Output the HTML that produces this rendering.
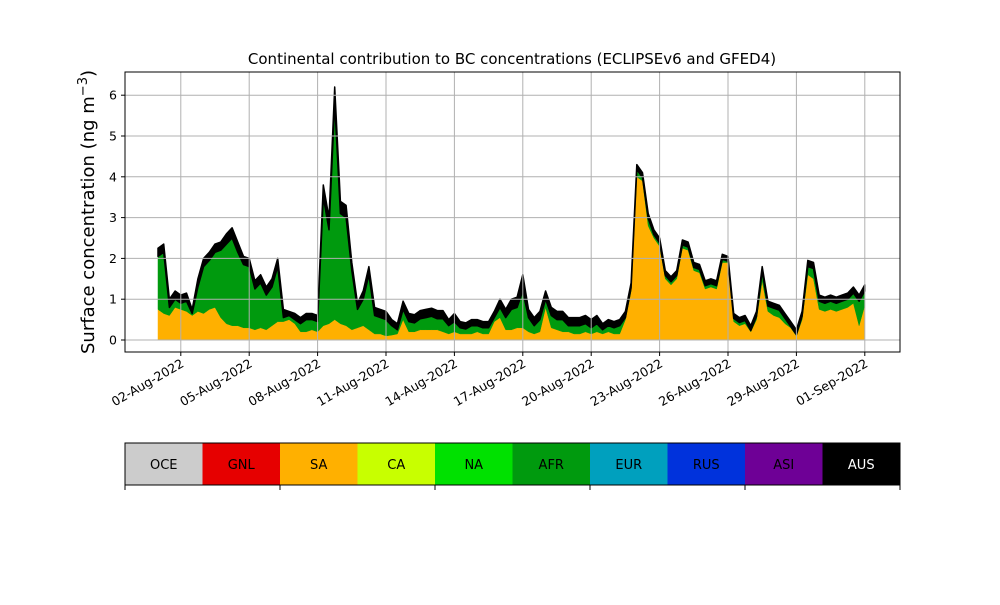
<!DOCTYPE html>
<html><head><meta charset="utf-8"><style>
html,body{margin:0;padding:0;background:#fff;}
svg text{font-family:"DejaVu Sans","Liberation Sans",sans-serif;}
</style></head><body>
<svg id="chart" width="1000" height="600" viewBox="0 0 1000 600" xmlns="http://www.w3.org/2000/svg">
<rect width="1000" height="600" fill="#fff"/>
<g id="layers"></g>
<g id="grid"></g>
<rect x="125" y="72" width="775" height="280" fill="none" stroke="#000" stroke-width="1"/>
<g id="xticks"></g>
<g id="yticks"></g>
<text x="512" y="64" font-size="15" text-anchor="middle">Continental contribution to BC concentrations (ECLIPSEv6 and GFED4)</text>
<text transform="translate(94,212) rotate(-90)" font-size="18" text-anchor="middle">Surface concentration (ng m<tspan dy="-7" font-size="13">−3</tspan><tspan dy="7">)</tspan></text>
<g id="cbar"></g>
</svg>
<script>
const startDay = 0, stepDay = 0.25;
const sa = [0.75,0.65,0.6,0.8,0.75,0.7,0.6,0.7,0.65,0.75,0.8,0.55,0.4,0.35,0.35,0.3,0.3,0.25,0.3,0.25,0.35,0.45,0.45,0.5,0.4,0.2,0.2,0.25,0.2,0.35,0.4,0.5,0.4,0.35,0.25,0.3,0.35,0.25,0.15,0.15,0.1,0.12,0.15,0.5,0.2,0.2,0.25,0.25,0.25,0.25,0.2,0.15,0.2,0.15,0.15,0.15,0.2,0.15,0.15,0.45,0.55,0.25,0.25,0.3,0.3,0.2,0.15,0.2,0.8,0.3,0.25,0.2,0.2,0.15,0.15,0.2,0.15,0.2,0.15,0.2,0.15,0.15,0.5,1.2,4.0,3.9,2.8,2.5,2.3,1.5,1.35,1.5,2.25,2.2,1.7,1.65,1.25,1.3,1.25,1.9,1.9,0.45,0.35,0.4,0.2,0.5,1.45,0.7,0.6,0.55,0.4,0.3,0.1,0.5,1.6,1.5,0.75,0.7,0.75,0.7,0.75,0.8,0.9,0.35,0.85];
const afr = [1.3,1.5,0.2,0.2,0.15,0.25,0.05,0.6,1.15,1.2,1.35,1.65,1.95,2.15,1.8,1.55,1.5,1.0,1.1,0.85,0.95,1.35,0.1,0.1,0.1,0.2,0.3,0.25,0.25,3.15,2.3,5.3,2.7,2.65,1.45,0.45,0.65,1.35,0.45,0.4,0.4,0.23,0.1,0.25,0.25,0.22,0.27,0.3,0.33,0.27,0.32,0.2,0.25,0.15,0.12,0.2,0.15,0.15,0.15,0.1,0.25,0.3,0.5,0.5,0.9,0.35,0.2,0.3,0.2,0.3,0.25,0.3,0.15,0.2,0.2,0.2,0.15,0.2,0.1,0.15,0.15,0.2,0.05,0.08,0.18,0.08,0.18,0.08,0.08,0.08,0.08,0.08,0.08,0.08,0.08,0.08,0.08,0.08,0.08,0.08,0.03,0.08,0.08,0.08,0.03,0.08,0.23,0.13,0.18,0.18,0.13,0.03,0.03,0.08,0.2,0.25,0.2,0.2,0.2,0.2,0.2,0.2,0.25,0.6,0.35];
const aus = [0.2,0.2,0.2,0.2,0.2,0.2,0.1,0.2,0.2,0.2,0.2,0.2,0.25,0.25,0.25,0.2,0.2,0.2,0.2,0.2,0.2,0.2,0.2,0.1,0.15,0.15,0.15,0.15,0.15,0.3,0.3,0.4,0.3,0.3,0.2,0.15,0.2,0.2,0.2,0.2,0.2,0.15,0.15,0.2,0.2,0.2,0.2,0.2,0.2,0.2,0.2,0.15,0.2,0.15,0.15,0.15,0.15,0.15,0.15,0.15,0.2,0.2,0.25,0.25,0.4,0.2,0.2,0.2,0.2,0.2,0.2,0.2,0.2,0.2,0.2,0.2,0.2,0.2,0.15,0.15,0.15,0.15,0.15,0.12,0.12,0.12,0.12,0.12,0.12,0.12,0.12,0.12,0.12,0.12,0.12,0.12,0.12,0.12,0.12,0.12,0.12,0.12,0.12,0.12,0.12,0.12,0.12,0.12,0.12,0.12,0.12,0.12,0.12,0.12,0.15,0.15,0.15,0.15,0.15,0.15,0.15,0.15,0.15,0.15,0.15];
const xTickDays = [1,4,7,10,13,16,19,22,25,28,31];
const xTickLabels = ["02-Aug-2022","05-Aug-2022","08-Aug-2022","11-Aug-2022","14-Aug-2022","17-Aug-2022","20-Aug-2022","23-Aug-2022","26-Aug-2022","29-Aug-2022","01-Sep-2022"];
const yTicks = [0,1,2,3,4,5,6];
const regions = ["OCE","GNL","SA","CA","NA","AFR","EUR","RUS","ASI","AUS"];
const regionColors = ["#cccccc","#e60000","#ffb000","#c8ff00","#00e100","#009a0e","#00a0be","#0032dc","#6e0096","#000000"];

const NS = "http://www.w3.org/2000/svg";
const xs = d => 158 + 22.8 * d;
const ys = v => 340 - 40.8 * v;
function mk(tag, attrs, parent){const e=document.createElementNS(NS,tag);for(const k in attrs)e.setAttribute(k,attrs[k]);parent.appendChild(e);return e;}

const layersG = document.getElementById('layers');
const series = [sa, afr, aus];
const fills = ["#ffb000","#009a0e","#000000"];
const names = ["area-sa","area-afr","area-aus"];
let base = sa.map(()=>0);
series.forEach((s, k) => {
  const top = base.map((b,i)=>b+s[i]);
  let d = "";
  top.forEach((v,i)=>{d += (i?"L":"M") + xs(startDay+i*stepDay).toFixed(1)+","+ys(v).toFixed(1);});
  for(let i=base.length-1;i>=0;i--) d += "L"+xs(startDay+i*stepDay).toFixed(1)+","+ys(base[i]).toFixed(1);
  d += "Z";
  const p = mk('path',{d:d,fill:fills[k],stroke:fills[k],'stroke-width':(k==2?1.5:0.5),'stroke-linejoin':'round'},layersG);
  
  
  base = top;
});

const gridG = document.getElementById('grid');
const xtG = document.getElementById('xticks');
xTickDays.forEach((d,i)=>{
  const x = xs(d);
  const gl = mk('line',{x1:x,x2:x,y1:72,y2:352,stroke:'#b0b0b0','stroke-width':1},gridG);
  
  
  const tk = mk('line',{x1:x,x2:x,y1:352,y2:356,stroke:'#000'},xtG);
  
  
  const t = mk('text',{x:x+4,y:366,'font-size':12.5,'text-anchor':'end',transform:`rotate(-30 ${x+4} 366)`},xtG);
  t.textContent = xTickLabels[i];
  
  
});
const ytG = document.getElementById('yticks');
yTicks.forEach(v=>{
  const y = ys(v);
  const gl = mk('line',{x1:125,x2:900,y1:y,y2:y,stroke:'#b0b0b0','stroke-width':1},gridG);
  
  
  const tk = mk('line',{x1:121,x2:125,y1:y,y2:y,stroke:'#000'},ytG);
  
  
  const t = mk('text',{x:117,y:y+4.5,'font-size':12.5,'text-anchor':'end'},ytG);
  t.textContent = String(v);
  
  
});

const cb = document.getElementById('cbar');
const cw = 775/regions.length;
regions.forEach((r,i)=>{
  const rc = mk('rect',{x:125+i*cw,y:443,width:cw+0.3,height:42,fill:regionColors[i]},cb);
  
  
  const t = mk('text',{x:125+(i+0.5)*cw,y:469,'font-size':13,'text-anchor':'middle',fill:(r==="AUS"?'#fff':'#000')},cb);
  t.textContent = r;
  
  
});
const fr = mk('rect',{x:125,y:443,width:775,height:42,fill:'none',stroke:'#000','stroke-width':1},cb);


for(let i=0;i<=regions.length;i+=2){
  const tk = mk('line',{x1:125+i*cw,x2:125+i*cw,y1:485,y2:490,stroke:'#000'},cb);
  
  
}
</script>
</body></html>
